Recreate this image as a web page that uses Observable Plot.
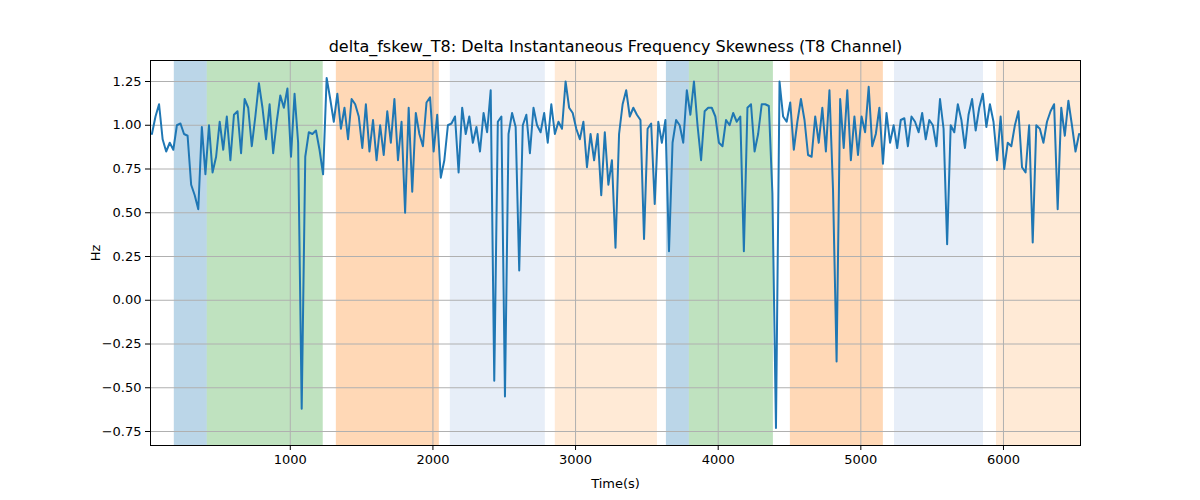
<!DOCTYPE html>
<html><head><meta charset="utf-8">
<script src="https://cdn.jsdelivr.net/npm/d3@7"></script>
<script src="https://cdn.jsdelivr.net/npm/@observablehq/plot@0.6"></script>
<style>body{margin:0;background:#fff;font-family:"DejaVu Sans",sans-serif}</style>
</head><body><div id="c"></div>
<script>
const title = "delta_fskew_T8: Delta Instantaneous Frequency Skewness (T8 Channel)";
const t0 = 30, step = 25;
const values = [
0.95,1.05,1.12,0.92,0.85,0.90,0.86,1.00,1.01,0.95,
0.94,0.66,0.60,0.52,0.99,0.72,1.00,0.73,0.82,1.02,
0.86,1.05,0.80,1.06,1.08,0.84,1.15,1.10,0.88,1.05,
1.24,1.10,0.92,1.12,0.84,1.02,1.17,1.10,1.21,0.82,
1.18,0.90,-0.62,0.82,0.96,0.95,0.97,0.86,0.72,1.27,
1.15,1.02,1.18,0.98,1.10,0.92,1.15,1.12,1.05,0.87,
1.12,0.85,1.03,0.80,1.00,0.83,1.08,0.90,1.15,0.80,
1.02,0.50,1.10,0.62,1.07,0.95,0.88,1.13,1.16,0.85,
1.06,0.70,0.80,1.00,1.01,1.05,0.73,1.10,0.95,1.05,
0.90,0.99,0.85,1.07,0.96,1.20,-0.46,1.02,1.05,-0.55,
0.95,1.07,0.99,0.17,1.00,1.06,0.84,1.10,1.00,0.96,
1.07,0.90,1.12,0.95,1.02,0.98,1.25,1.10,1.07,0.98,
0.92,1.02,0.76,0.95,0.80,0.95,0.60,0.96,0.66,0.80,
0.30,0.95,1.12,1.20,1.05,1.10,1.06,1.03,0.35,0.98,
1.01,0.55,1.02,0.90,1.03,0.28,0.90,1.03,1.00,0.90,
1.20,1.06,1.25,1.00,0.80,1.08,1.10,1.10,1.05,0.90,
0.88,1.03,1.00,1.07,1.02,1.05,0.28,1.10,1.12,0.85,
0.95,1.12,1.12,1.11,0.61,-0.73,1.25,1.05,1.02,1.13,
0.86,1.02,1.15,1.03,0.83,0.82,1.05,0.90,1.10,0.85,
1.20,0.63,-0.35,1.15,0.87,1.20,0.80,1.05,0.83,1.05,
0.96,1.22,0.88,0.95,1.10,0.78,1.07,0.90,1.00,0.87,
1.03,1.04,0.88,1.05,1.02,0.96,1.07,0.92,1.03,1.00,
0.88,1.15,0.98,0.32,1.00,0.96,1.12,1.03,0.87,1.06,
1.15,0.97,1.10,1.18,0.99,1.12,1.02,0.80,1.05,0.75,
0.90,0.88,1.00,1.08,0.76,0.73,1.00,0.33,1.00,0.98,
0.90,1.02,1.08,1.12,0.52,1.10,0.94,1.14,1.00,0.85,
0.95];
const bandStart = [187, 418, 1323, 2122, 2858, 3637, 3798, 4506, 5236, 5951];
const bandEnd   = [418, 1231, 2045, 2788, 3574, 3798, 4387, 5158, 5860, 6540];
const bandColor = ["#1f77b4","#2ca02c","#ff7f0e","#aec7e8","#ffbb78","#1f77b4","#2ca02c","#ff7f0e","#aec7e8","#ffbb78"];
const series = values.map((v,i)=>({t:t0+step*i, v}));
const bands = bandStart.map((s,i)=>({s, e:bandEnd[i], c:bandColor[i]}));
const chart = Plot.plot({
  width:1200, height:500, marginTop:60, marginBottom:55, marginLeft:150, marginRight:120,
  style:{fontSize:"13px", fontFamily:"DejaVu Sans, sans-serif"},
  x:{domain:[20,6540], ticks:[1000,2000,3000,4000,5000,6000], tickFormat:d=>String(d), label:"Time(s)", labelAnchor:"center", labelArrow:"none", labelOffset:42, tickSize:5},
  y:{domain:[-0.83,1.37], ticks:d3.range(-0.75,1.26,0.25), tickFormat:d3.format(".2f"), label:"Hz", labelAnchor:"center", labelArrow:"none", labelOffset:60, tickSize:5},
  marks:[
    Plot.rectX(bands,{x1:"s",x2:"e",fill:"c",fillOpacity:0.3}),
    Plot.gridX([1000,2000,3000,4000,5000,6000],{stroke:"#b0b0b0",strokeOpacity:1}),
    Plot.gridY(d3.range(-0.75,1.26,0.25),{stroke:"#b0b0b0",strokeOpacity:1}),
    Plot.line(series,{x:"t",y:"v",stroke:"#1f77b4",strokeWidth:2}),
    Plot.frame({stroke:"#000"}),
    Plot.text([title],{frameAnchor:"top",dy:-20,fontSize:16,fill:"#000"})
  ]
});
document.getElementById("c").append(chart);
</script></body></html>
